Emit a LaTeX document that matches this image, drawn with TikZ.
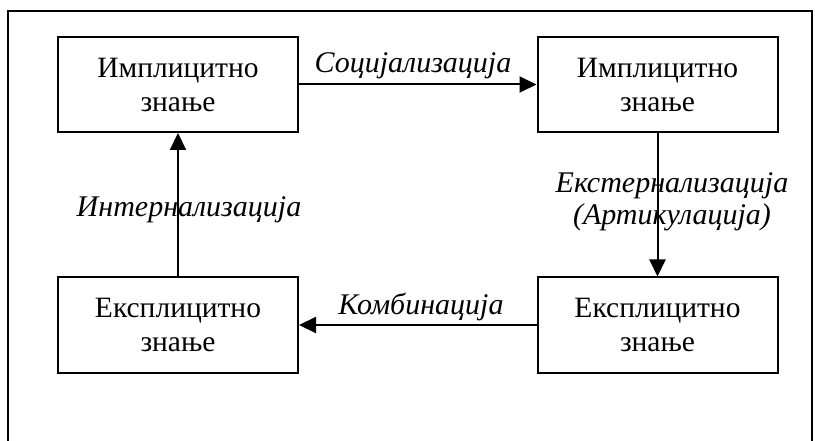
\documentclass[tikz,border=0pt]{standalone}
\usepackage{fontspec}
\setmainfont{Liberation Serif}
\usetikzlibrary{arrows.meta}
\begin{document}
\begin{tikzpicture}[x=1pt,y=-1pt,
  knowbox/.style={draw, line width=2pt, minimum width=240pt, minimum height=95pt,
    align=center, font=\fontsize{29.5}{34}\selectfont, inner sep=0pt},
  flowlabel/.style={font=\fontsize{30}{32}\selectfont\itshape, align=center, anchor=base, inner sep=0pt},
  flow/.style={line width=2pt, -{Triangle[length=17pt,width=16pt]}},
  frameline/.style={line width=2pt}]
  \useasboundingbox (0,0) rectangle (815,441);
  % outer frame (open at the bottom)
  \coordinate (fbl) at (8,441);
  \coordinate (ftl) at (8,11);
  \coordinate (ftr) at (812,11);
  \coordinate (fbr) at (812,441);
  \draw[frameline] (fbl) -- (ftl) -- (ftr) -- (fbr);
  % knowledge boxes
  \node[knowbox] (tl) at (178,84.5) {Имплицитно\\знање};
  \node[knowbox] (tr) at (657.5,84.5) {Имплицитно\\знање};
  \node[knowbox] (bl) at (178,325) {Експлицитно\\знање};
  \node[knowbox] (br) at (657.5,325) {Експлицитно\\знање};
  % conversion labels
  \node[flowlabel] (soc) at (413,73) {Социјализација};
  \node[flowlabel] (ext) at (672,225) {Екстернализација\\(Артикулација)};
  \node[flowlabel] (int) at (189,217) {Интернализација};
  \node[flowlabel] (kom) at (421,315) {Комбинација};
  % conversion arrows
  \draw[flow] (tl.east) -- (tr.west);
  \draw[flow] (tr.south) -- (br.north);
  \draw[flow] (br.west) -- (bl.east);
  \draw[flow] (bl.north) -- (tl.south);
\end{tikzpicture}
\end{document}
